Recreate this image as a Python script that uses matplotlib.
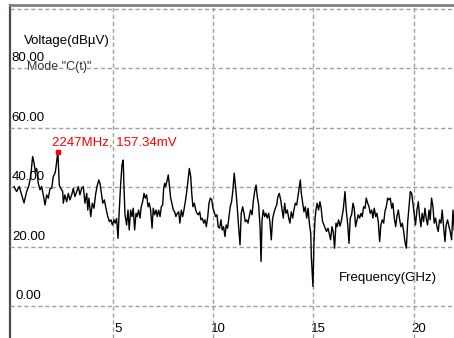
import numpy as np
import matplotlib
matplotlib.use('Agg')
import matplotlib.pyplot as plt

# spectrum trace: frequency (GHz) vs level (dBuV)
freq_ghz = [0.06, 0.19, 0.32, 0.44, 0.56, 0.69, 0.79, 0.89, 0.99, 1.06, 1.12, 1.19, 1.27, 1.36, 1.44, 1.52,
            1.61, 1.69, 1.77, 1.86, 1.94, 2.02, 2.11, 2.16, 2.247, 2.32, 2.39, 2.49, 2.52, 2.60, 2.69, 2.77,
            2.85, 2.94, 3.02, 3.10, 3.19, 3.27, 3.35, 3.44, 3.52, 3.60, 3.69, 3.74, 3.80, 3.89, 3.97, 4.05,
            4.14, 4.22, 4.29, 4.35, 4.42, 4.49, 4.57, 4.65, 4.74, 4.82, 4.90, 4.97, 5.05, 5.11, 5.18, 5.25,
            5.31, 5.38, 5.45, 5.51, 5.55, 5.60, 5.68, 5.75, 5.81, 5.88, 5.95, 6.01, 6.08, 6.15, 6.21, 6.28,
            6.35, 6.41, 6.48, 6.55, 6.61, 6.68, 6.75, 6.81, 6.88, 6.95, 7.01, 7.08, 7.15, 7.21, 7.28, 7.35,
            7.41, 7.48, 7.53, 7.58, 7.63, 7.69, 7.76, 7.83, 7.88, 7.94, 8.01, 8.08, 8.14, 8.21, 8.28, 8.34,
            8.41, 8.48, 8.54, 8.61, 8.68, 8.74, 8.81, 8.88, 8.93, 8.99, 9.06, 9.13, 9.19, 9.26, 9.33, 9.39,
            9.46, 9.53, 9.59, 9.66, 9.73, 9.79, 9.86, 9.93, 9.99, 10.05, 10.12, 10.19, 10.25, 10.32, 10.39,
            10.45, 10.52, 10.59, 10.65, 10.72, 10.79, 10.85, 10.92, 10.99, 11.05, 11.14, 11.20, 11.27, 11.34,
            11.40, 11.47, 11.54, 11.60, 11.67, 11.74, 11.80, 11.87, 11.94, 12.00, 12.07, 12.14, 12.20, 12.27,
            12.34, 12.39, 12.44, 12.50, 12.57, 12.63, 12.70, 12.77, 12.83, 12.90, 12.97, 13.03, 13.10, 13.17,
            13.23, 13.30, 13.37, 13.43, 13.50, 13.57, 13.63, 13.70, 13.77, 13.83, 13.90, 13.97, 14.03, 14.10,
            14.17, 14.23, 14.30, 14.35, 14.40, 14.47, 14.53, 14.60, 14.67, 14.74, 14.80, 14.87, 14.90, 14.95,
            14.98, 15.03, 15.08, 15.13, 15.19, 15.26, 15.33, 15.39, 15.46, 15.53, 15.59, 15.66, 15.73, 15.79,
            15.86, 15.93, 15.99, 16.06, 16.13, 16.19, 16.26, 16.33, 16.39, 16.49, 16.58, 16.64, 16.71, 16.78,
            16.84, 16.91, 16.98, 17.04, 17.11, 17.18, 17.24, 17.31, 17.38, 17.44, 17.51, 17.58, 17.64, 17.71,
            17.78, 17.84, 17.91, 17.97, 18.04, 18.11, 18.17, 18.24, 18.31, 18.37, 18.44, 18.51, 18.57, 18.64,
            18.71, 18.77, 18.84, 18.91, 18.97, 19.04, 19.11, 19.17, 19.24, 19.31, 19.37, 19.44, 19.51, 19.57,
            19.64, 19.71, 19.77, 19.84, 19.91, 19.97, 20.04, 20.10, 20.17, 20.24, 20.30, 20.37, 20.43, 20.50,
            20.57, 20.63, 20.70, 20.77, 20.83, 20.90, 20.97, 21.03, 21.10, 21.17, 21.23, 21.30, 21.37, 21.43,
            21.50, 21.57, 21.63, 21.70, 21.77, 21.83, 21.90, 21.97, 22.03]
level_dbuv = [40.3, 38.6, 40.3, 37.5, 34.8, 38.6, 40.3, 43.6, 50.4, 48.2, 45.3, 46.4, 41.4, 39.2, 40.3, 37.5,
              34.1, 37.5, 36.4, 39.7, 39.7, 43.6, 44.8, 47.0, 52.0, 40.8, 39.7, 38.6, 34.7, 37.5, 35.2, 38.0,
              35.8, 37.5, 39.7, 36.9, 38.6, 40.3, 37.5, 39.7, 40.3, 34.7, 38.0, 32.4, 36.4, 30.2, 34.7, 33.0,
              38.0, 40.8, 42.5, 41.4, 38.0, 34.7, 35.8, 33.0, 30.2, 28.5, 29.1, 27.4, 29.1, 28.0, 29.6, 22.9,
              31.8, 40.8, 47.6, 49.2, 39.7, 30.8, 27.4, 32.4, 25.7, 32.4, 30.2, 33.0, 25.7, 31.3, 30.2, 32.4,
              29.7, 33.5, 35.2, 38.0, 36.4, 37.5, 33.5, 34.7, 32.4, 26.3, 33.0, 30.8, 32.4, 30.2, 32.4, 30.2,
              33.5, 34.1, 39.7, 41.4, 40.3, 42.0, 44.2, 39.7, 36.4, 34.7, 32.4, 31.8, 30.2, 31.3, 31.8, 28.0,
              32.4, 30.2, 32.4, 35.2, 38.6, 42.0, 46.4, 43.6, 38.0, 33.5, 34.7, 32.4, 31.3, 30.8, 31.8, 29.1,
              29.6, 28.0, 29.1, 26.8, 30.2, 34.7, 36.4, 35.8, 33.0, 31.8, 30.2, 30.8, 26.8, 26.3, 29.1,
              25.7, 26.8, 23.5, 27.4, 26.3, 30.2, 33.5, 35.2, 39.5, 44.8, 38.6, 33.5, 26.8, 20.7,
              31.3, 33.5, 31.3, 28.5, 29.1, 28.0, 30.2, 32.4, 30.8, 35.2, 38.6, 40.8, 37.0, 34.1,
              26.8, 15.1, 29.1, 32.4, 30.2, 31.3, 29.7, 31.3, 28.5, 22.4, 29.7, 31.3, 33.0, 34.1,
              36.9, 38.0, 35.8, 33.0, 29.7, 34.7, 31.3, 32.4, 29.7, 28.0, 31.8, 29.7, 32.4, 34.7,
              34.1, 36.9, 40.3, 42.5, 38.0, 34.7, 31.8, 33.5, 29.7, 33.0, 28.0, 24.6, 16.7, 10.6,
              6.7, 21.2, 29.1, 32.4, 34.7, 32.4, 35.2, 33.0, 28.5, 27.4, 26.3, 25.2, 26.3, 24.6,
              22.4, 26.8, 25.2, 19.6, 28.0, 26.8, 29.1, 27.0, 28.5, 32.4, 38.6, 32.4, 28.0, 21.2,
              29.7, 30.8, 34.7, 33.0, 26.8, 29.1, 30.8, 29.7, 31.3, 30.2, 33.5, 33.0, 36.4, 34.7,
              33.5, 31.3, 32.4, 29.7, 33.0, 30.2, 31.3, 28.5, 21.8, 27.4, 29.1, 28.0, 31.8, 33.5,
              36.4, 35.8, 36.4, 33.0, 34.7, 29.7, 26.8, 30.2, 32.4, 29.1, 26.8, 28.0, 25.2, 21.8,
              19.6, 28.5, 33.0, 38.6, 38.0, 34.7, 30.8, 27.4, 32.4, 35.2, 30.2, 26.8, 31.3, 28.5,
              33.0, 29.7, 27.4, 32.4, 29.1, 36.4, 33.5, 28.0, 29.7, 26.8, 25.2, 29.1, 28.0, 32.4,
              26.8, 21.8, 27.4, 29.1, 26.8, 25.2, 22.4, 32.4, 25.7]

x_ticks = [5, 10, 15, 20]
y_ticks = [0, 20, 40, 60, 80]
y_grid = [0, 20, 40, 60, 80, 100]

marker_freq = 2.247
marker_text = '2247MHz, 157.34mV'

plt.rcParams['font.family'] = ['Liberation Sans', 'DejaVu Sans']

fig = plt.figure(figsize=(4.54, 3.38), dpi=100)
ax = fig.add_axes([10 / 454, 0, 1 - 10 / 454, 333 / 338])
ax.set_xlim(-0.14, 22.02)
ax.set_ylim(-10.6, 101.3)
ax.set_xticks([])
ax.set_yticks([])

for s in ['right', 'bottom']:
    ax.spines[s].set_visible(False)
ax.spines['left'].set_color('#5a4848')
ax.spines['left'].set_linewidth(1.6)
ax.spines['top'].set_color('#808080')
ax.spines['top'].set_linewidth(2.0)

grid_kw = dict(color='#a0a0a0', lw=1.0, ls=(0, (3, 2)), zorder=3)
for v in y_grid:
    ax.axhline(v, **grid_kw)
for f in x_ticks:
    ax.axvline(f, **grid_kw)

# tick labels sit inside the plot area
for v in y_ticks:
    ax.text(0.78, v + 3.4, f'{v:.2f}', ha='center', va='center', fontsize=9.5, color='black', zorder=2)
for f in x_ticks:
    ax.text(f + 0.27, -7.6, str(f), ha='center', va='center', fontsize=9.5, color='black', zorder=2)

ax.text(0.55, 89.1, 'Voltage(dBµV)', ha='left', va='center', fontsize=9.5, color='black', zorder=2)
ax.text(0.7, 80.5, 'Mode "C(t)"', ha='left', va='center', fontsize=9, color='#303030', zorder=1)
ax.text(18.72, 9.4, 'Frequency(GHz)', ha='center', va='center', fontsize=9.5, color='black', zorder=2)

ax.plot(freq_ghz, level_dbuv, color='black', lw=1.0, zorder=4)

peak = level_dbuv[freq_ghz.index(marker_freq)]
ax.plot([marker_freq], [peak], 's', color='#ff0000', ms=3.5, zorder=5)
ax.text(1.96, peak + 3.2, marker_text, ha='left', va='center', fontsize=9.5, color='#ff0000', zorder=5)

fig.savefig('out.png', dpi=100, facecolor='white')
